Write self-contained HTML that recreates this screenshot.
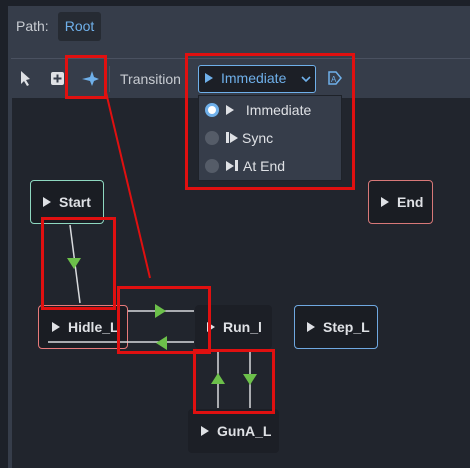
<!DOCTYPE html>
<html><head><style>
body{margin:0;width:470px;height:468px;background:#1d2129;position:relative;overflow:hidden;font-family:"Liberation Sans",sans-serif;}
.a{position:absolute}
.node{position:absolute;background:#1a1d23;border-radius:4px;color:#dfe1e5;font-weight:bold;font-size:14px;display:flex;align-items:center;box-sizing:border-box}
.tri{display:inline-block;width:0;height:0;border-left:8px solid #dfe1e5;border-top:5px solid transparent;border-bottom:5px solid transparent;margin-right:8px}
</style></head><body>
<div class="a" style="left:8px;top:6px;width:462px;height:462px;background:#363d4a"></div>
<div class="a" style="left:11px;top:58px;width:459px;height:1px;background:#4a5160"></div>
<div class="a" style="left:16px;top:18px;color:#c8ccd2;font-size:14px">Path:</div>
<div class="a" style="left:58px;top:12px;width:43px;height:29px;background:#262b33;border-radius:3px;color:#6fb0ea;font-size:14px;line-height:29px;text-align:center">Root</div>
<div class="a" style="left:109px;top:66px;width:1px;height:26px;background:#4a5160"></div>
<svg class="a" style="left:0;top:0" width="470" height="100">
<path d="M21 71 L21 84 L24 81 L27 86 L29 85 L26 80 L30 79 Z" fill="#dfe1e5"/>
<rect x="51" y="72" width="13" height="13" rx="2" fill="#dfe1e5"/>
<path d="M57.5 74.5v8M53.5 78.5h8" stroke="#363d4a" stroke-width="2"/>
<path d="M82 79 L90 77 L92 71 L94 77 L99 79 L94 81 L92 86 L90 81 Z" fill="#6fb0ea"/>
<path d="M329 72h7l5 6l-5 6h-7z" fill="none" stroke="#6fb0ea" stroke-width="1.5"/>
<text x="331" y="82" font-size="8" fill="#6fb0ea" font-family="Liberation Sans">A</text>
</svg>
<div class="a" style="left:120px;top:71px;color:#c8ccd2;font-size:14px">Transition</div>
<div class="a" style="left:198px;top:65px;width:118px;height:28px;box-sizing:border-box;border:1.5px solid #6fb0ea;background:#1c1f26;border-radius:3px;color:#6fb0ea;font-size:14px;line-height:25px;padding-left:6px">
<span class="tri" style="border-left-color:#6fb0ea"></span>Immediate</div>
<svg class="a" style="left:300px;top:74px" width="12" height="10"><path d="M2 3l4 4l4-4" fill="none" stroke="#6fb0ea" stroke-width="1.6"/></svg>
<div class="a" style="left:12px;top:98px;width:458px;height:370px;background:#21252d"></div>
<div class="a" style="left:198px;top:95px;width:144px;height:86px;box-sizing:border-box;background:#363d4a;border:1px solid #1e2229"></div>
<div class="a" style="left:205px;top:103px;width:14px;height:14px;border-radius:50%;background:#6fb0ea;box-sizing:border-box;border:3px solid #6fb0ea"><div style="width:8px;height:8px;border-radius:50%;background:#fff"></div></div>
<div class="a" style="left:205px;top:131px;width:14px;height:14px;border-radius:50%;background:#555c68"></div>
<div class="a" style="left:205px;top:159px;width:14px;height:14px;border-radius:50%;background:#555c68"></div>
<div class="a" style="left:226px;top:102px;color:#dfe1e5;font-size:14px"><span class="tri"></span>&nbsp;Immediate</div>
<div class="a" style="left:226px;top:130px;color:#dfe1e5;font-size:14px"><span style="display:inline-block;width:3px;height:11px;background:#dfe1e5;margin-right:1px"></span><span class="tri" style="margin-right:4px"></span>Sync</div>
<div class="a" style="left:226px;top:158px;color:#dfe1e5;font-size:14px"><span class="tri" style="margin-right:1px"></span><span style="display:inline-block;width:3px;height:11px;background:#dfe1e5;margin-right:5px"></span>At End</div>
<div class="node" style="left:30px;top:180px;width:74px;height:44px;border:1px solid #8ed8c0;padding-left:12px"><span class="tri"></span>Start</div>
<div class="node" style="left:368px;top:180px;width:65px;height:44px;border:1px solid #d87878;padding-left:12px"><span class="tri"></span>End</div>
<div class="node" style="left:38px;top:305px;width:90px;height:44px;border:1px solid #e87a7a;padding-left:13px"><span class="tri"></span>Hidle_L</div>
<div class="node" style="left:195px;top:305px;width:77px;height:44px;background:#1c1f26;padding-left:12px"><span class="tri"></span>Run_l</div>
<div class="node" style="left:294px;top:305px;width:84px;height:44px;border:1.5px solid #6fa8e0;padding-left:12px"><span class="tri"></span>Step_L</div>
<div class="node" style="left:188px;top:409px;width:91px;height:44px;background:#1c1f26;padding-left:13px"><span class="tri"></span>GunA_L</div>
<svg class="a" style="left:0;top:0" width="470" height="468">
<g stroke="#d8dadd" stroke-width="1.5">
<line x1="70" y1="225" x2="80" y2="303"/>
<line x1="48" y1="342" x2="194" y2="342"/>
<line x1="128" y1="311" x2="194" y2="311"/>
<line x1="218" y1="352" x2="218" y2="408"/>
<line x1="250" y1="352" x2="250" y2="408"/>
</g>
<g fill="#6cc04a">
<path d="M67 258h14l-7 11z"/>
<path d="M155 304v14l11-7z"/>
<path d="M167 336v14l-11-7z"/>
<path d="M211 384h14l-7-11z"/>
<path d="M243 374h14l-7 11z"/>
</g>
<g fill="none" stroke="#e01010" stroke-width="3">
<rect x="66.5" y="56.5" width="39" height="41"/>
<rect x="186.5" y="54.5" width="167" height="134"/>
<rect x="42.5" y="218.5" width="72" height="90"/>
<rect x="118.5" y="287.5" width="91" height="65"/>
<rect x="194.5" y="350.5" width="79" height="62"/>
<line x1="105" y1="88" x2="150" y2="278" stroke-width="2"/>
</g>
</svg>
</body></html>
